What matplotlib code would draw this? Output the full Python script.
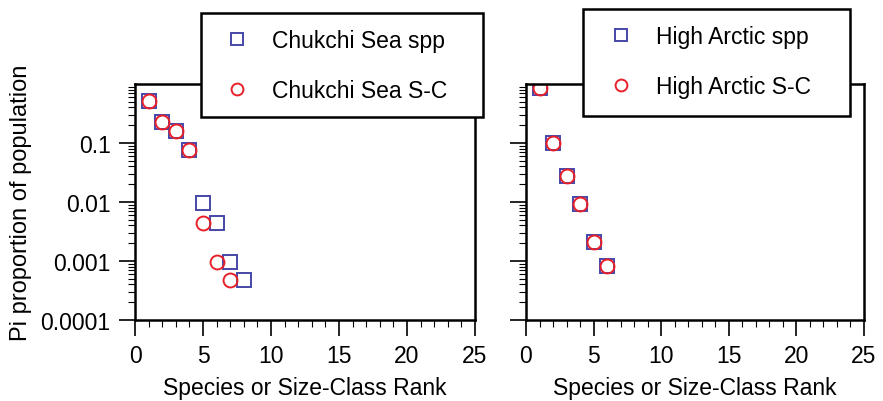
import matplotlib
matplotlib.use("Agg")
import matplotlib.pyplot as plt
from matplotlib.patches import Rectangle
from matplotlib.ticker import FixedLocator, MultipleLocator, LogLocator, NullFormatter

plt.rcParams['font.family'] = ['Liberation Sans', 'DejaVu Sans']

# Data
chukchi_spp_rank = [1, 2, 3, 4, 5, 6, 7, 8]
chukchi_spp_pi = [0.52, 0.23, 0.16, 0.077, 0.0098, 0.0044, 0.00098, 0.00048]
chukchi_sc_rank = [1, 2, 3, 4, 5, 6, 7]
chukchi_sc_pi = [0.52, 0.23, 0.16, 0.077, 0.0044, 0.00098, 0.00048]

arctic_spp_rank = [1, 2, 3, 4, 5, 6]
arctic_spp_pi = [0.86, 0.10, 0.028, 0.0093, 0.0021, 0.00081]
arctic_sc_rank = [1, 2, 3, 4, 5, 6]
arctic_sc_pi = [0.86, 0.10, 0.028, 0.0093, 0.0021, 0.00081]

ytick_vals = [0.0001, 0.001, 0.01, 0.1]
ytick_labels = ['0.0001', '0.001', '0.01', '0.1']
xtick_vals = [0, 5, 10, 15, 20, 25]

FS = 16.5
SQ_COLOR = '#4646a8'
CI_COLOR = '#e8202a'
W, H = 883, 402

fig = plt.figure(figsize=(8.83, 4.02), dpi=100)
fig.patch.set_facecolor('white')

ax1 = fig.add_axes([135/W, 1-321/H, 340/W, 236/H])
ax2 = fig.add_axes([526/W, 1-321/H, 338/W, 236/H])

def style(ax, ylabels):
    ax.set_yscale('log')
    ax.set_ylim(1e-4, 1)
    ax.set_xlim(0, 25)
    ax.xaxis.set_major_locator(FixedLocator(xtick_vals))
    ax.xaxis.set_minor_locator(MultipleLocator(1))
    ax.yaxis.set_major_locator(FixedLocator(ytick_vals))
    ax.yaxis.set_minor_locator(LogLocator(base=10, subs=range(2, 10)))
    ax.yaxis.set_minor_formatter(NullFormatter())
    if ylabels:
        ax.set_yticklabels(ytick_labels)
    else:
        ax.set_yticklabels([])
    ax.set_xticklabels([str(v) for v in xtick_vals])
    ax.tick_params(which='major', direction='out', length=11.5, width=1.2, labelsize=FS, pad=6)
    ax.tick_params(which='minor', direction='out', length=5, width=0.8)
    for s in ax.spines.values():
        s.set_linewidth(1.8)
    ax.set_xlabel('Species or Size-Class Rank', fontsize=FS, labelpad=6)

style(ax1, True)
style(ax2, False)
ax1.set_ylabel('Pi proportion of population', fontsize=FS + 0.5, labelpad=6)

mk = dict(linestyle='none', markersize=10, markeredgewidth=1.4, markerfacecolor='none')
h1, = ax1.plot(chukchi_spp_rank, chukchi_spp_pi, marker='s', markeredgecolor=SQ_COLOR, label='Chukchi Sea spp', **mk)
h2, = ax1.plot(chukchi_sc_rank, chukchi_sc_pi, marker='o', markeredgecolor=CI_COLOR, label='Chukchi Sea S-C', **mk)
h3, = ax2.plot(arctic_spp_rank, arctic_spp_pi, marker='s', markeredgecolor=SQ_COLOR, label='High Arctic spp', **mk)
h4, = ax2.plot(arctic_sc_rank, arctic_sc_pi, marker='o', markeredgecolor=CI_COLOR, label='High Arctic S-C', **mk)

# legend boxes: (handles, box x0, y0, x1, y1, marker centre x, rows centre y)
fs_px = FS * 100 / 72
hl = 1.6
for handles, bx0, by0, bx1, by1, mx, cy in [((h1, h2), 201, 14, 483, 118, 237, 66.5),
                                            ((h3, h4), 583, 10, 850, 117, 621, 62.5)]:
    rect = Rectangle((bx0/W, 1-by1/H), (bx1-bx0)/W, (by1-by0)/H, transform=fig.transFigure,
                     facecolor='white', edgecolor='black', linewidth=1.8, zorder=10)
    fig.add_artist(rect)
    start = mx - hl * fs_px / 2
    leg = fig.legend(handles=handles, loc='center left',
                     bbox_to_anchor=(start/W, 1-cy/H),
                     fontsize=FS, frameon=False,
                     markerscale=0.85, labelspacing=1.22, handletextpad=0.72,
                     borderpad=0, borderaxespad=0, handlelength=hl)
    leg.set_zorder(11)

fig.savefig('out.png', dpi=100, facecolor='white')
